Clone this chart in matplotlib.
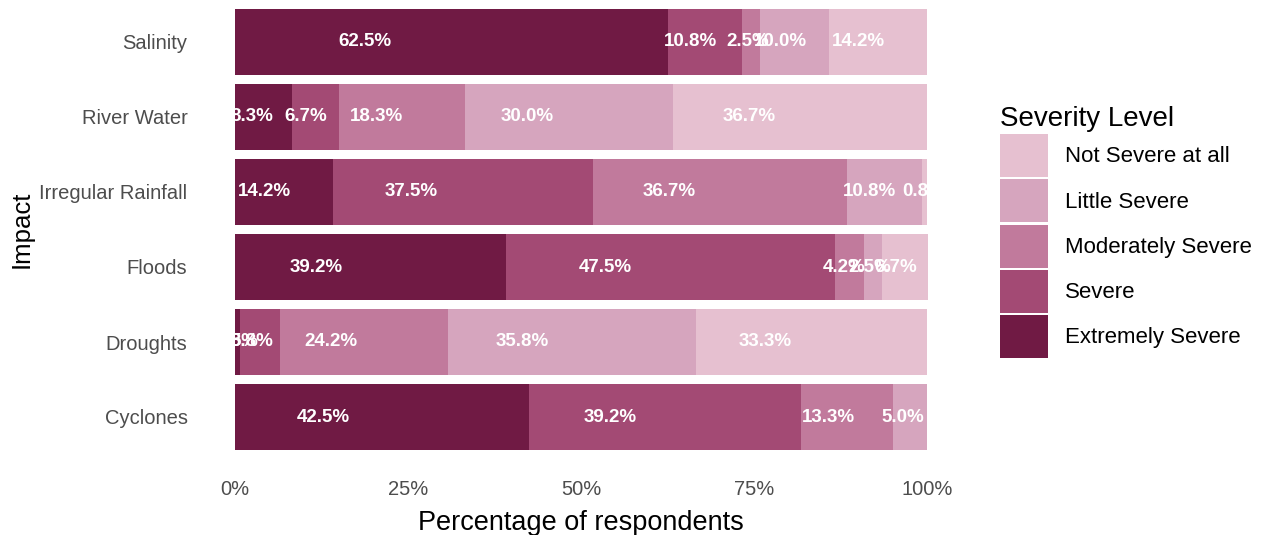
import numpy as np
import matplotlib.pyplot as plt
from matplotlib.patches import Patch

plt.rcParams['font.family'] = ['Liberation Sans', 'DejaVu Sans']

# categories, bottom to top
impacts = ['Cyclones', 'Droughts', 'Floods', 'Irregular Rainfall', 'River Water', 'Salinity']
levels = ['Extremely Severe', 'Severe', 'Moderately Severe', 'Little Severe', 'Not Severe at all']
colors = ['#701A44', '#A34A74', '#C17A9C', '#D6A5BE', '#E6C0D0']

# percentages per severity level
extremely = [42.5, 0.8, 39.2, 14.2, 8.3, 62.5]
severe = [39.2, 5.8, 47.5, 37.5, 6.7, 10.8]
moderate = [13.3, 24.2, 4.2, 36.7, 18.3, 2.5]
little = [5.0, 35.8, 2.5, 10.8, 30.0, 10.0]
not_severe = [0.0, 33.3, 6.7, 0.8, 36.7, 14.2]

series = [extremely, severe, moderate, little, not_severe]
xticks = [0, 25, 50, 75, 100]

fig = plt.figure(figsize=(12.63, 5.35), dpi=100)
W, H = 1263, 535
ax = fig.add_axes([200 / W, 1 - 462 / H, 762 / W, 465 / H])

y = np.arange(len(impacts))
left = np.zeros(len(impacts))
for vals, col in zip(series, colors):
    vals = np.array(vals)
    ax.barh(y, vals, left=left, height=0.88, color=col, linewidth=0)
    for yi, l, v in zip(y, left, vals):
        if v > 0:
            ax.text(l + 0.3 * v, yi, f'{v:.1f}%', ha='center', va='center',
                    color='white', fontweight='bold', fontsize=13.5)
    left = left + vals

ax.set_xlim(-5, 105)
ax.set_ylim(-0.6, 5.6)
ax.set_xticks(xticks)
ax.set_xticklabels([f'{t}%' for t in xticks])
ax.set_yticks(y)
ax.set_yticklabels(impacts)
ax.tick_params(axis='x', length=0, pad=13, labelsize=14.5, labelcolor='#4D4D4D')
ax.tick_params(axis='y', length=0, pad=9, labelsize=14.5, labelcolor='#4D4D4D')
for s in ax.spines.values():
    s.set_visible(False)

ax.set_xlabel('Percentage of respondents', fontsize=19.5, labelpad=8)
ax.set_ylabel('Impact', fontsize=18.5, labelpad=4)

handles = [Patch(facecolor=c, edgecolor='none') for c in colors[::-1]]
leg = fig.legend(handles, levels[::-1], title='Severity Level', loc='upper left',
                 bbox_to_anchor=(1000 / W, 1 - 106 / H), frameon=False,
                 fontsize=16, title_fontproperties={'size': 20}, alignment='left',
                 borderpad=0, borderaxespad=0, handlelength=2.16, handleheight=2.6,
                 labelspacing=0.1, handletextpad=0.75)

fig.savefig('out.png', dpi=100, facecolor='white')
